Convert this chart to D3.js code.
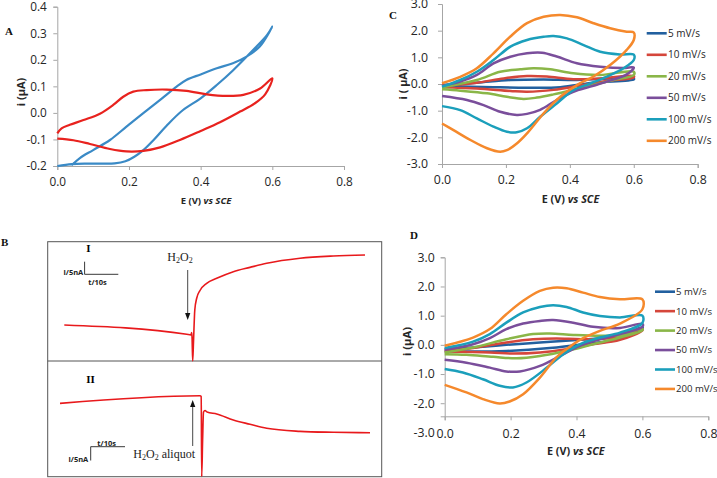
<!DOCTYPE html>
<html><head><meta charset="utf-8">
<script src="https://cdn.jsdelivr.net/npm/d3@7/dist/d3.min.js"></script>
<style>body{margin:0;background:#fff}svg{display:block}</style>
</head><body>
<svg id="c" width="717" height="478"></svg>
<script>
// ---------------- DATA ----------------
const xTicks = [0, 0.2, 0.4, 0.6, 0.8];
const yTicksA = [-0.2, -0.1, 0, 0.1, 0.2, 0.3, 0.4];
const yTicksC = [-3, -2, -1, 0, 1, 2, 3];
const yTicksD = [-2, -1, 0, 1, 2, 3];
const scanRates = ["5 mV/s", "10 mV/s", "20 mV/s", "50 mV/s", "100 mV/s", "200 mV/s"];

// Panel A: two CV loops [E (V), i (µA)]
const cvA_blue = [[0,-0.2],[0.04,-0.193],[0.08,-0.191],[0.12,-0.191],[0.16,-0.19],[0.19,-0.182],[0.215,-0.165],[0.24,-0.14],[0.27,-0.1],[0.305,-0.048],[0.35,0.01],[0.4,0.055],[0.445,0.105],[0.49,0.16],[0.545,0.235],[0.585,0.293],[0.6,0.325],
  [0.565,0.25],[0.528,0.212],[0.49,0.187],[0.445,0.168],[0.4,0.145],[0.36,0.124],[0.333,0.099],[0.287,0.049],[0.24,-0.001],[0.193,-0.052],[0.147,-0.102],[0.1,-0.14],[0.063,-0.17],[0.04,-0.197]];
const cvA_red = [[0,-0.077],[0.012,-0.058],[0.035,-0.045],[0.073,-0.027],[0.119,-0.003],[0.156,0.03],[0.184,0.061],[0.212,0.08],[0.249,0.086],[0.305,0.088],[0.361,0.083],[0.417,0.07],[0.473,0.064],[0.519,0.068],[0.566,0.092],[0.6,0.13],
  [0.58,0.07],[0.55,0.035],[0.51,0.005],[0.454,-0.035],[0.4,-0.068],[0.342,-0.102],[0.287,-0.13],[0.24,-0.143],[0.193,-0.145],[0.147,-0.136],[0.091,-0.117],[0.045,-0.103],[0,-0.097]];

// Panel C: CVs at six scan rates
const cvC_5 = [[0,-0.04],[0.109,0.05],[0.214,0.15],[0.318,0.17],[0.422,0.15],[0.6,0.21],[0.6,0.17],[0.474,0.05],[0.37,-0.12],[0.266,-0.14],[0.161,-0.12],[0,-0.07]];
const cvC_10 = [[0,-0.07],[0.109,0.05],[0.193,0.21],[0.266,0.3],[0.328,0.28],[0.411,0.18],[0.495,0.21],[0.6,0.3],[0.6,0.25],[0.516,0.11],[0.432,-0.06],[0.349,-0.22],[0.266,-0.29],[0.214,-0.26],[0.109,-0.17],[0,-0.12]];
const cvC_20 = [[0,-0.12],[0.109,0.15],[0.182,0.46],[0.245,0.55],[0.286,0.59],[0.339,0.55],[0.411,0.4],[0.495,0.34],[0.6,0.46],[0.6,0.34],[0.536,0.15],[0.474,-0.04],[0.411,-0.22],[0.349,-0.39],[0.297,-0.51],[0.255,-0.56],[0.203,-0.48],[0.141,-0.35],[0.057,-0.25],[0,-0.2]];
const cvC_50 = [[0,-0.07],[0.057,0.09],[0.109,0.34],[0.161,0.77],[0.214,1.02],[0.266,1.15],[0.313,1.17],[0.359,1.03],[0.422,0.78],[0.495,0.65],[0.568,0.6],[0.6,0.62],[0.578,0.36],[0.516,0.09],[0.464,-0.1],[0.411,-0.29],[0.359,-0.6],[0.307,-0.97],[0.266,-1.12],[0.234,-1.16],[0.182,-1.04],[0.13,-0.79],[0.078,-0.6],[0,-0.45]];
const cvC_100 = [[0,-0.1],[0.057,0.15],[0.109,0.46],[0.161,0.9],[0.214,1.4],[0.266,1.65],[0.318,1.77],[0.349,1.8],[0.391,1.71],[0.443,1.46],[0.495,1.21],[0.557,1.11],[0.6,1.1],[0.6,0.9],[0.568,0.59],[0.516,0.28],[0.464,0.02],[0.411,-0.23],[0.359,-0.73],[0.307,-1.23],[0.266,-1.66],[0.234,-1.81],[0.203,-1.79],[0.161,-1.6],[0.109,-1.29],[0.057,-0.98],[0,-0.83]];
const cvC_200 = [[0,0.03],[0.057,0.27],[0.109,0.59],[0.161,1.15],[0.214,1.78],[0.266,2.28],[0.318,2.52],[0.37,2.59],[0.422,2.5],[0.474,2.28],[0.526,2.09],[0.578,1.96],[0.6,1.93],[0.6,1.65],[0.578,1.28],[0.526,0.71],[0.474,0.28],[0.422,-0.04],[0.37,-0.48],[0.318,-1.1],[0.266,-1.85],[0.234,-2.23],[0.203,-2.48],[0.182,-2.54],[0.141,-2.41],[0.089,-2.1],[0.036,-1.73],[0,-1.48]];

// Panel D: CVs at six scan rates
const cvD_5 = [[0,-0.15],[0.086,-0.09],[0.187,0],[0.289,0.08],[0.39,0.16],[0.47,0.22],[0.532,0.32],[0.6,0.6],[0.6,0.55],[0.532,0.2],[0.42,0.02],[0.319,-0.11],[0.187,-0.21],[0.086,-0.23],[0,-0.21]];
const cvD_10 = [[0,-0.21],[0.086,-0.11],[0.187,0.08],[0.268,0.19],[0.339,0.22],[0.42,0.19],[0.532,0.27],[0.6,0.55],[0.6,0.5],[0.532,0.17],[0.44,0],[0.369,-0.15],[0.289,-0.26],[0.208,-0.3],[0.137,-0.26],[0,-0.23]];
const cvD_20 = [[0,-0.26],[0.086,-0.09],[0.187,0.19],[0.268,0.37],[0.319,0.39],[0.39,0.34],[0.471,0.31],[0.532,0.34],[0.6,0.55],[0.6,0.5],[0.532,0.25],[0.45,0.02],[0.369,-0.21],[0.289,-0.38],[0.218,-0.46],[0.147,-0.41],[0.066,-0.34],[0,-0.32]];
const cvD_50 = [[0,-0.17],[0.086,0.02],[0.137,0.23],[0.187,0.54],[0.238,0.73],[0.289,0.82],[0.329,0.85],[0.39,0.76],[0.45,0.62],[0.532,0.58],[0.6,0.72],[0.6,0.62],[0.532,0.37],[0.471,0.19],[0.41,-0.03],[0.35,-0.38],[0.289,-0.72],[0.228,-0.91],[0.187,-0.91],[0.137,-0.78],[0.066,-0.61],[0,-0.51]];
const cvD_100 = [[0,-0.11],[0.086,0.11],[0.137,0.37],[0.187,0.76],[0.238,1.11],[0.289,1.3],[0.329,1.36],[0.37,1.3],[0.42,1.11],[0.471,0.99],[0.532,0.94],[0.6,1.0],[0.6,0.75],[0.532,0.42],[0.471,0.25],[0.41,0.02],[0.36,-0.32],[0.31,-0.78],[0.248,-1.29],[0.207,-1.46],[0.167,-1.4],[0.116,-1.18],[0.055,-0.95],[0,-0.83]];
const cvD_200 = [[0,-0.03],[0.086,0.25],[0.137,0.54],[0.187,1.05],[0.238,1.51],[0.289,1.85],[0.329,1.96],[0.37,1.94],[0.42,1.79],[0.471,1.64],[0.532,1.56],[0.6,1.56],[0.6,1.22],[0.532,0.73],[0.471,0.48],[0.42,0.23],[0.39,0.02],[0.339,-0.43],[0.289,-1.12],[0.238,-1.69],[0.197,-1.94],[0.167,-2.01],[0.116,-1.86],[0.066,-1.63],[0,-1.37]];

// Panel B: amperometric traces, [t (arb.), i (arb.)]
const traceI = [[4.97,30.2],[41.62,22.4],[42.9,21.8],[43.11,23.9],[43.23,19.3],[43.41,0],[43.65,15.9],[44.04,42.7],[44.61,52.6],[45.6,59.1],[47.6,65.1],[50.6,69.3],[55.57,74.9],[60.57,78.5],[65.57,81.9],[75.54,86.1],[85.51,88.0],[95.0,88.9]];
const traceII = [[3.68,63.4],[45.6,70.0],[45.96,69.3],[46.11,0.2],[46.38,31.7],[46.65,55.9],[47.1,57.2],[47.7,55.9],[50.6,54.2],[55.57,49.0],[60.57,45.3],[65.57,41.8],[75.54,39.2],[85.51,38.4],[96.5,38.0]];

const colA = ["#3A8AC6", "#E8221E"];
const colCD = ["#22609F", "#D5463B", "#8AB648", "#7A4E9B", "#1B9FBB", "#F5892C"];

// ---------------- DRAW ----------------
const svg = d3.select("#c");
const FONT = "'Open Sans', 'Liberation Sans', sans-serif";
const AXC = "#A6A6A6";
const fmt = d => d.toFixed(1);

function styleAxis(g, fs) {
  g.select(".domain").attr("stroke", AXC);
  g.selectAll(".tick line").attr("stroke", AXC);
  g.selectAll(".tick text").attr("fill", "#262626").style("font-family", FONT).style("font-size", fs + "px");
}

function cvPanel(o) {
  const x = d3.scaleLinear().domain([0, 0.8]).range([o.x0, o.x1]);
  const y = d3.scaleLinear().domain(o.yDom).range([o.yBot, o.yTop]);
  const axisY = o.axisY;
  const gx = svg.append("g").attr("transform", `translate(0,${axisY})`)
    .call(d3.axisBottom(x).tickValues(xTicks).tickFormat(fmt).tickSize(4).tickPadding(o.xPad));
  styleAxis(gx, o.fs);
  const yAx = y.copy().domain([y.invert(axisY), o.yDom[1]]).range([axisY, o.yTop]);
  const gy = svg.append("g").attr("transform", `translate(${o.x0},0)`)
    .call(d3.axisLeft(yAx).tickValues(o.yTicks).tickFormat(fmt).tickSize(4).tickPadding(o.yPad));
  styleAxis(gy, o.fs);
  const line = d3.line().x(d => x(d[0])).y(d => y(d[1])).curve(d3.curveCatmullRom.alpha(0.5));
  const clipId = "clip" + o.id;
  svg.append("clipPath").attr("id", clipId).append("rect")
    .attr("x", o.x0 - 2).attr("y", o.yTop - 2).attr("width", o.x1 - o.x0 + 4).attr("height", axisY - o.yTop + 3);
  const g = svg.append("g").attr("clip-path", `url(#${clipId})`);
  o.series.forEach((s, k) => {
    g.append("path").attr("d", line(s)).attr("fill", "none")
      .attr("stroke", o.colors[k]).attr("stroke-width", o.sw).attr("stroke-linejoin", "round");
  });
  const xt = svg.append("text").attr("x", o.xtX).attr("y", o.xtY).attr("text-anchor", "middle")
    .style("font-family", FONT).style("font-size", o.tfs + "px").style("font-weight", "bold").attr("fill", "#262626");
  xt.append("tspan").text("E (V) ");
  xt.append("tspan").style("font-style", "italic").text("vs SCE");
  svg.append("text").attr("transform", `translate(${o.ytX},${o.ytY}) rotate(-90)`).attr("text-anchor", "middle")
    .style("font-family", FONT).style("font-size", o.ytfs + "px").style("font-weight", "bold").attr("fill", "#262626")
    .text(o.yTitle);
  return {x, y};
}

// Panel A
cvPanel({id: "A", x0: 57.3, x1: 344, yDom: [-0.2, 0.4], yBot: 166, yTop: 6.7, axisY: 166,
  yTicks: yTicksA, xPad: 8, yPad: 6.5, fs: 11.8, tfs: 9.5, ytfs: 11, sw: 2.2,
  series: [cvA_blue, cvA_red], colors: colA,
  xtX: 206, xtY: 204, ytX: 25, ytY: 92, yTitle: "i  (µA)"});

// Panel C
cvPanel({id: "C", x0: 442, x1: 697.7, yDom: [-3, 3], yBot: 164, yTop: 4, axisY: 164,
  yTicks: yTicksC, xPad: 7.5, yPad: 10, fs: 12.3, tfs: 10.8, ytfs: 10.8, sw: 2.5,
  series: [cvC_5, cvC_10, cvC_20, cvC_50, cvC_100, cvC_200], colors: colCD,
  xtX: 570.5, xtY: 203, ytX: 406.5, ytY: 84, yTitle: "i ( µA)"});

// Panel D (x-axis crosses at about -2.45)
const pD = cvPanel({id: "D", x0: 444.7, x1: 708.3, yDom: [-3, 3], yBot: 432.4, yTop: 257.3, axisY: 416.3,
  yTicks: yTicksD, xPad: 8.5, yPad: 6, fs: 12.3, tfs: 10.8, ytfs: 11.2, sw: 2.5,
  series: [cvD_5, cvD_10, cvD_20, cvD_50, cvD_100, cvD_200], colors: colCD,
  xtX: 575.8, xtY: 455, ytX: 410.5, ytY: 341.5, yTitle: "i (µA)"});
svg.append("text").attr("x", 434.7).attr("y", pD.y(-3)).attr("dy", "0.35em").attr("text-anchor", "end")
  .style("font-family", FONT).style("font-size", "12.3px").attr("fill", "#262626").text(fmt(-3));

// legends
function legend(x0, y0, dy, lx, fs) {
  scanRates.forEach((lab, k) => {
    const yy = y0 + k * dy;
    svg.append("line").attr("x1", x0).attr("x2", x0 + 20).attr("y1", yy).attr("y2", yy)
      .attr("stroke", colCD[k]).attr("stroke-width", 2.6);
    svg.append("text").attr("x", lx).attr("y", yy).attr("dy", "0.35em")
      .style("font-family", FONT).style("font-size", fs + "px").attr("fill", "#262626").text(lab);
  });
}
legend(646.7, 33.3, 21.5, 668, 10);
legend(655, 291.7, 19.45, 676, 9.6);

// Panel B
const bx0 = 47.7, bx1 = 381.7, by0 = 241.7, bym = 361, by1 = 476.7;
svg.append("rect").attr("x", bx0).attr("y", by0).attr("width", bx1 - bx0).attr("height", by1 - by0)
  .attr("fill", "none").attr("stroke", "#555").attr("stroke-width", 1);
svg.append("line").attr("x1", bx0).attr("x2", bx1).attr("y1", bym).attr("y2", bym).attr("stroke", "#555");
const tB = d3.scaleLinear().domain([0, 100]).range([bx0, bx1]);
const iB1 = d3.scaleLinear().domain([0, 100]).range([bym, by0]);
const iB2 = d3.scaleLinear().domain([0, 100]).range([by1, bym]);
svg.append("path").attr("d", d3.line().x(d => tB(d[0])).y(d => iB1(d[1])).curve(d3.curveMonotoneX)(traceI))
  .attr("fill", "none").attr("stroke", "#E8191C").attr("stroke-width", 1.6);
svg.append("path").attr("d", d3.line().x(d => tB(d[0])).y(d => iB2(d[1])).curve(d3.curveMonotoneX)(traceII))
  .attr("fill", "none").attr("stroke", "#E8191C").attr("stroke-width", 1.6);

const SERIF = "'Liberation Serif', 'Times New Roman', serif";
function arrow(x, yFrom, yTo) {
  const dir = yTo > yFrom ? 1 : -1;
  svg.append("line").attr("x1", x).attr("x2", x).attr("y1", yFrom).attr("y2", yTo - dir * 6).attr("stroke", "#333").attr("stroke-width", 0.9);
  svg.append("path").attr("d", `M${x - 2.6},${yTo - dir * 7}L${x + 2.6},${yTo - dir * 7}L${x},${yTo}Z`).attr("fill", "#111");
}
arrow(187.7, 270, 320);
arrow(192.7, 446, 400);

function h2o2(x, y, anchor, extra) {
  const t = svg.append("text").attr("x", x).attr("y", y).attr("text-anchor", anchor)
    .style("font-family", SERIF).style("font-size", "12px").attr("fill", "#222");
  t.append("tspan").text("H");
  t.append("tspan").attr("dy", 2.5).style("font-size", "8px").text("2");
  t.append("tspan").attr("dy", -2.5).text("O");
  t.append("tspan").attr("dy", 2.5).style("font-size", "8px").text("2");
  if (extra) t.append("tspan").attr("dy", -2.5).text(extra);
}
h2o2(180, 260.5, "middle");
h2o2(133.3, 457.5, "start", " aliquot");

svg.append("text").attr("x", 88.3).attr("y", 251.7).attr("text-anchor", "middle")
  .style("font-family", SERIF).style("font-size", "11px").style("font-weight", "bold").text("I");
svg.append("text").attr("x", 90.5).attr("y", 383.3).attr("text-anchor", "middle")
  .style("font-family", SERIF).style("font-size", "11px").style("font-weight", "bold").text("II");

function sbLine(x1, y1, x2, y2) {
  svg.append("line").attr("x1", x1).attr("y1", y1).attr("x2", x2).attr("y2", y2).attr("stroke", "#222").attr("stroke-width", 0.9);
}
function sbText(x, y, anchor, s) {
  svg.append("text").attr("x", x).attr("y", y).attr("dy", "0.35em").attr("text-anchor", anchor)
    .style("font-family", FONT).style("font-size", "7.5px").style("font-weight", "bold").attr("fill", "#222").text(s);
}
sbLine(84.6, 261.7, 84.6, 274.3); sbLine(84.6, 274.3, 118.3, 274.3);
sbText(83.3, 272.8, "end", "i/5nA"); sbText(97.5, 282, "middle", "t/10s");
sbLine(90.7, 446.7, 125, 446.7); sbLine(90.7, 446.7, 90.7, 460.5);
sbText(88.3, 459.7, "end", "i/5nA"); sbText(106.7, 443, "middle", "t/10s");

[["A", 5, 34.5], ["B", 1, 246], ["C", 389, 19], ["D", 410, 239]].forEach(([s, x, y]) => {
  svg.append("text").attr("x", x).attr("y", y).style("font-family", SERIF).style("font-size", "11px")
    .style("font-weight", "bold").attr("fill", "#111").text(s);
});
</script>
</body></html>
